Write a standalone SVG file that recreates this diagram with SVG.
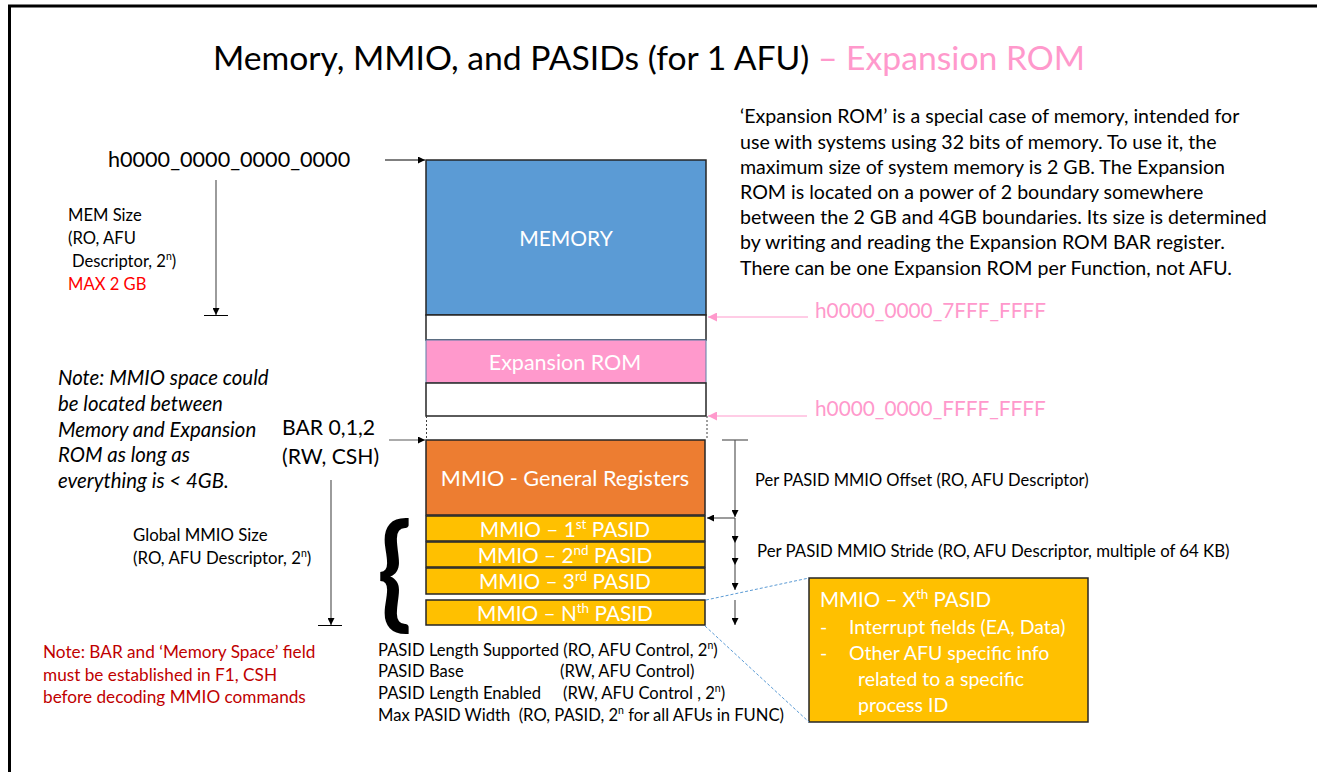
<svg xmlns="http://www.w3.org/2000/svg" width="1317" height="772" viewBox="0 0 1317 772">
<defs>
<style>
text{font-family:Lato,"Liberation Sans",sans-serif;}
.t{fill:#000;}
.w{fill:#fff;}
.pk{fill:#FF99CC;}
.red{fill:#FF0000;}
.dred{fill:#C00000;}
.blk{stroke:#000;stroke-width:1;fill:none;}
.gry{stroke:#595959;stroke-width:1.2;fill:none;}
.box{stroke:#262626;stroke-width:1.5;}
</style>
<marker id="ah" viewBox="0 0 10 10" refX="10" refY="5" markerWidth="7" markerHeight="7" orient="auto" markerUnits="userSpaceOnUse"><path d="M0,0 L10,5 L0,10 z" fill="#000"/></marker>
<marker id="ahp" viewBox="0 0 10 10" refX="10" refY="5" markerWidth="9" markerHeight="9" orient="auto" markerUnits="userSpaceOnUse"><path d="M0,0 L10,5 L0,10 z" fill="#FF99CC"/></marker>
</defs>
<rect x="0" y="0" width="1317" height="772" fill="#fff"/>
<g id="frame">
<line x1="8" y1="6" x2="1317" y2="6" stroke="#000" stroke-width="3"/>
<line x1="9.5" y1="5" x2="9.5" y2="772" stroke="#000" stroke-width="3"/>
</g>
<g id="title">
<text x="213" y="70" font-size="32" textLength="872" lengthAdjust="spacingAndGlyphs" class="t">Memory, MMIO, and PASIDs (for 1 AFU) <tspan class="pk">– Expansion ROM</tspan></text>
</g>
<g id="memory"><rect x="426" y="160" width="280" height="155" fill="#5B9BD5" class="box"/><text x="566" y="246" font-size="21" text-anchor="middle" class="w">MEMORY</text></g>
<g id="gap1"><rect x="426" y="315" width="280" height="25" fill="#fff" class="box"/></g>
<g id="expansion-rom"><rect x="426" y="340" width="280" height="43" fill="#FF99CC" stroke="#5B7FA6" stroke-width="1"/><text x="565" y="370" font-size="21.5" text-anchor="middle" class="w">Expansion ROM</text></g>
<g id="gap2"><rect x="426" y="383" width="280" height="33" fill="#fff" class="box"/></g>
<g id="mmio-general"><rect x="426" y="440" width="279" height="75" fill="#ED7D31" class="box"/><text x="565" y="486" font-size="21.6" text-anchor="middle" class="w">MMIO - General Registers</text></g>
<g id="pasid1"><rect x="426" y="516" width="279" height="25" fill="#FFC000" class="box"/><text x="565" y="537" font-size="20.8" text-anchor="middle" class="w">MMIO – 1<tspan dy="-8" font-size="13.5">st</tspan><tspan dy="8"> PASID</tspan></text></g>
<g id="pasid2"><rect x="426" y="542" width="279" height="25" fill="#FFC000" class="box"/><text x="565" y="563" font-size="20.8" text-anchor="middle" class="w">MMIO – 2<tspan dy="-8" font-size="13.5">nd</tspan><tspan dy="8"> PASID</tspan></text></g>
<g id="pasid3"><rect x="426" y="568" width="279" height="26" fill="#FFC000" class="box"/><text x="565" y="589" font-size="20.8" text-anchor="middle" class="w">MMIO – 3<tspan dy="-8" font-size="13.5">rd</tspan><tspan dy="8"> PASID</tspan></text></g>
<g id="pasidN"><rect x="426" y="600" width="279" height="25" fill="#FFC000" class="box"/><text x="565" y="621" font-size="20.8" text-anchor="middle" class="w">MMIO – N<tspan dy="-8" font-size="13.5">th</tspan><tspan dy="8"> PASID</tspan></text></g>
<g id="callout"><rect x="809" y="578" width="279" height="144" fill="#FFC000" class="box"/>
<text x="820" y="607" font-size="20.5" class="w">MMIO – X<tspan dy="-8" font-size="13.5">th</tspan><tspan dy="8"> PASID</tspan></text>
<text x="820" y="634" font-size="19.5" class="w">-</text><text x="849" y="634" font-size="19.5" class="w">Interrupt fields (EA, Data)</text>
<text x="820" y="660" font-size="19.5" class="w">-</text><text x="849" y="660" font-size="19.5" class="w">Other AFU specific info</text>
<text x="858" y="686" font-size="19.5" class="w">related to a specific</text>
<text x="858" y="712" font-size="19.5" class="w">process ID</text>
</g>
<g id="connectors">
<line x1="385" y1="160" x2="425" y2="160" class="blk" marker-end="url(#ah)"/>
<line x1="216" y1="180" x2="216" y2="315" class="gry" marker-end="url(#ah)"/>
<line x1="204" y1="315.5" x2="228" y2="315.5" class="blk"/>
<line x1="389" y1="440" x2="425" y2="440" class="gry" marker-end="url(#ah)"/>
<line x1="331" y1="480" x2="331" y2="625" class="gry" marker-end="url(#ah)"/>
<line x1="318" y1="625.5" x2="342" y2="625.5" class="blk"/>
<line x1="426.5" y1="416" x2="426.5" y2="440" stroke="#404040" stroke-width="1" stroke-dasharray="2,2"/>
<line x1="707" y1="416" x2="707" y2="440" stroke="#404040" stroke-width="1" stroke-dasharray="2,2"/>
<line x1="808" y1="317" x2="708" y2="317" stroke="#FF99CC" stroke-width="1" marker-end="url(#ahp)"/>
<line x1="807" y1="416" x2="708" y2="416" stroke="#FF99CC" stroke-width="1" marker-end="url(#ahp)"/>
<line x1="722" y1="440" x2="748" y2="440" class="gry"/>
<line x1="735" y1="440" x2="735" y2="517" class="gry" marker-end="url(#ah)"/>
<line x1="735" y1="518" x2="707" y2="518" class="gry" marker-end="url(#ah)"/>
<line x1="735" y1="518" x2="735" y2="543" class="gry" marker-end="url(#ah)"/>
<line x1="735" y1="543" x2="735" y2="565" class="gry" marker-end="url(#ah)"/>
<line x1="735" y1="565" x2="735" y2="590" class="gry" marker-end="url(#ah)"/>
<line x1="735" y1="600" x2="735" y2="625" class="gry" marker-end="url(#ah)"/>
<line x1="706" y1="600" x2="809" y2="578" stroke="#5B9BD5" stroke-width="1" stroke-dasharray="3,2"/>
<line x1="705" y1="626" x2="809" y2="722" stroke="#5B9BD5" stroke-width="1" stroke-dasharray="3,2"/>
</g>
<g id="labels">
<text x="108" y="167" font-size="21.6" class="t">h0000_0000_0000_0000</text>
<text x="68" y="221" font-size="16.6" class="t">MEM Size</text>
<text x="68" y="244" font-size="16.6" class="t">(RO, AFU</text>
<text x="72" y="267" font-size="16.6" class="t">Descriptor, 2<tspan dy="-7" font-size="10.5">n</tspan><tspan dy="7">)</tspan></text>
<text x="68" y="290" font-size="16.6" class="red">MAX 2 GB</text>
<g font-style="italic" font-size="20.4" class="t">
<text x="58" y="385">Note: MMIO space could</text>
<text x="58" y="411">be located between</text>
<text x="58" y="437">Memory and Expansion</text>
<text x="58" y="462">ROM as long as</text>
<text x="58" y="488">everything is &lt; 4GB.</text>
</g>
<text x="282" y="435" font-size="21.2" class="t">BAR 0,1,2</text>
<text x="282" y="464" font-size="21.2" class="t">(RW, CSH)</text>
<text x="133" y="541" font-size="16.8" class="t">Global MMIO Size</text>
<text x="133" y="564" font-size="16.8" class="t">(RO, AFU Descriptor, 2<tspan dy="-7" font-size="10.5">n</tspan><tspan dy="7">)</tspan></text>
<text x="43" y="658" font-size="17.2" class="dred">Note: BAR and ‘Memory Space’ field</text>
<text x="43" y="681" font-size="17.2" class="dred">must be established in F1, CSH</text>
<text x="43" y="703" font-size="17.2" class="dred">before decoding MMIO commands</text>
<text x="378" y="656" font-size="16.6" class="t">PASID Length Supported (RO, AFU Control, 2<tspan dy="-7" font-size="10.5">n</tspan><tspan dy="7">)</tspan></text>
<text x="378" y="677" font-size="16.6" class="t">PASID Base</text>
<text x="560" y="677" font-size="16.6" class="t">(RW, AFU Control)</text>
<text x="378" y="699" font-size="16.6" class="t">PASID Length Enabled</text>
<text x="563" y="699" font-size="16.6" class="t">(RW, AFU Control , 2<tspan dy="-7" font-size="10.5">n</tspan><tspan dy="7">)</tspan></text>
<text x="378" y="721" font-size="16.6" class="t">Max PASID Width&#160; (RO, PASID, 2<tspan dy="-7" font-size="10.5">n</tspan><tspan dy="7"> for all AFUs in FUNC)</tspan></text>
<text x="755" y="486" font-size="16.5" class="t">Per PASID MMIO Offset (RO, AFU Descriptor)</text>
<text x="757" y="557" font-size="16.8" class="t">Per PASID MMIO Stride (RO, AFU Descriptor, multiple of 64 KB)</text>
<text x="815" y="318" font-size="20.8" class="pk">h0000_0000_7FFF_FFFF</text>
<text x="815" y="416" font-size="20.8" class="pk">h0000_0000_FFFF_FFFF</text>
<g font-size="19.6" class="t">
<text x="740" y="123">‘Expansion ROM’ is a special case of memory, intended for</text>
<text x="740" y="149">use with systems using 32 bits of memory. To use it, the</text>
<text x="740" y="174">maximum size of system memory is 2 GB. The Expansion</text>
<text x="740" y="199">ROM is located on a power of 2 boundary somewhere</text>
<text x="740" y="224">between the 2 GB and 4GB boundaries. Its size is determined</text>
<text x="740" y="249">by writing and reading the Expansion ROM BAR register.</text>
<text x="740" y="275">There can be one Expansion ROM per Function, not AFU.</text>
</g>
<text x="0" y="0" font-size="120" font-weight="bold" font-family="'DejaVu Sans',sans-serif" class="t" transform="translate(377,615) scale(0.95,1.03)">{</text>
</g>
</svg>
